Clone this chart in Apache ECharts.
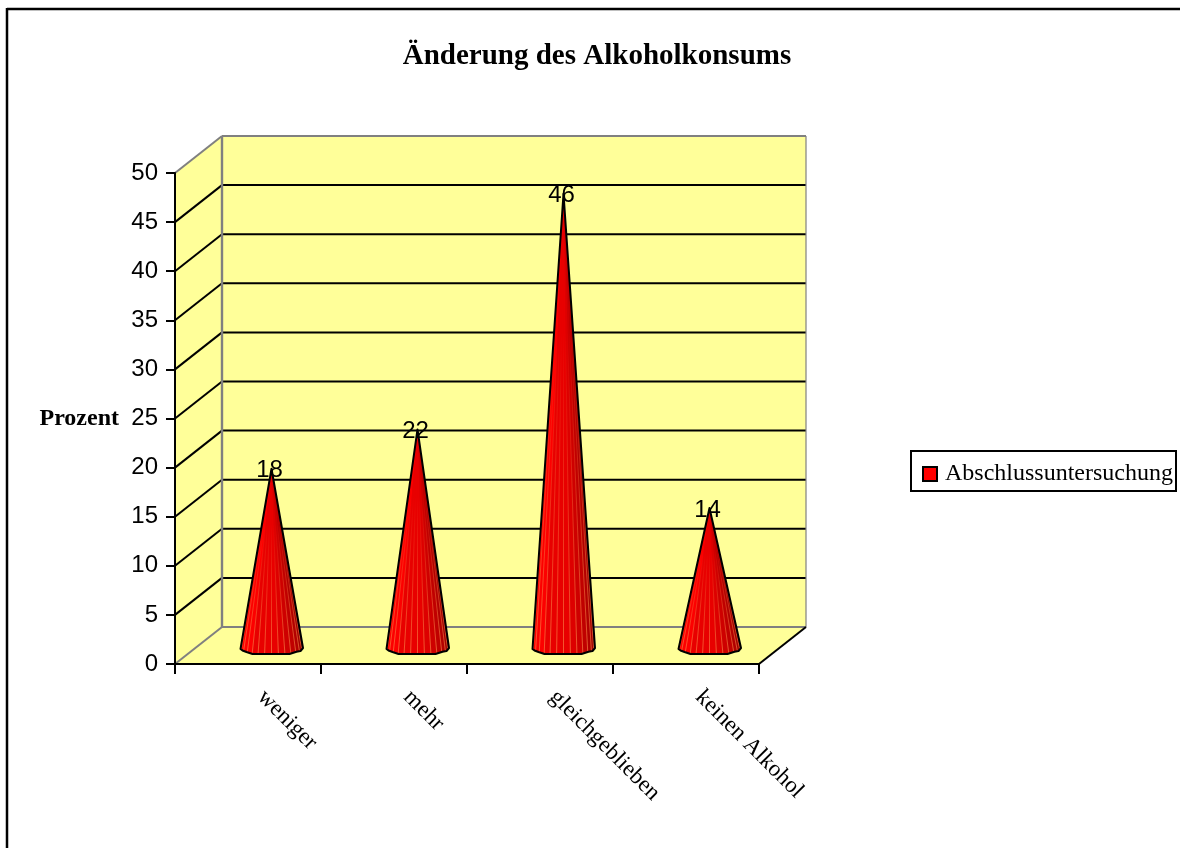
<!DOCTYPE html>
<html lang="de">
<head>
<meta charset="utf-8">
<title>Änderung des Alkoholkonsums</title>
<style>
  html, body { margin: 0; padding: 0; background: #fff; }
  #chart { width: 1180px; height: 848px; }
</style>
<script src="https://cdn.jsdelivr.net/npm/echarts@6/dist/echarts.min.js"></script>
</head>
<body>
<div id="chart"></div>
<script>
const categories = ['weniger', 'mehr', 'gleichgeblieben', 'keinen Alkohol'];
const percentValues = [18, 22, 46, 14];
const yTicks = [0, 5, 10, 15, 20, 25, 30, 35, 40, 45, 50];
const seriesName = 'Abschlussuntersuchung';
const titleText = 'Änderung des Alkoholkonsums';
const yAxisName = 'Prozent';

// Oblique projection of the chart box: depth of the walls in pixels.
const DEPTH_X = 47;
const DEPTH_Y = 37;
const WALL = '#FFFF99';
const WALL_EDGE = '#808080';
const SERIF = '"Liberation Serif", "Times New Roman", serif';
const SANS = '"Liberation Sans", Arial, sans-serif';

// Outline of a cone's foot, relative to its centre on the mid-depth plane.
const FOOT = [[-31, 3.5], [-29, 5], [-25, 6.5], [-19, 8.5], [18, 8.5], [25, 6.2], [29, 5.6], [31.5, 2.5]];
const FACETS = 14;

function line(x1, y1, x2, y2, stroke, width) {
  return { type: 'line', shape: { x1, y1, x2, y2 }, style: { stroke, lineWidth: width, fill: null } };
}

function footY(dx) {
  for (let i = 1; i < FOOT.length; i++) {
    if (dx <= FOOT[i][0]) {
      const [xa, ya] = FOOT[i - 1];
      const [xb, yb] = FOOT[i];
      return ya + (yb - ya) * (dx - xa) / (xb - xa);
    }
  }
  return FOOT[FOOT.length - 1][1];
}

function renderBox(params, api) {
  const left = params.coordSys.x;
  const right = left + params.coordSys.width;
  const top = params.coordSys.y;
  const bottom = top + params.coordSys.height;
  const poly = (points) => ({ type: 'polygon', shape: { points }, style: { fill: WALL } });
  const children = [
    poly([[left + DEPTH_X, top - DEPTH_Y], [right + DEPTH_X, top - DEPTH_Y], [right + DEPTH_X, bottom - DEPTH_Y], [left + DEPTH_X, bottom - DEPTH_Y]]),
    poly([[left, top], [left + DEPTH_X, top - DEPTH_Y], [left + DEPTH_X, bottom - DEPTH_Y], [left, bottom]]),
    poly([[left, bottom], [left + DEPTH_X, bottom - DEPTH_Y], [right + DEPTH_X, bottom - DEPTH_Y], [right, bottom]])
  ];
  yTicks.forEach((tick) => {
    if (tick === 0 || tick === 50) return;
    const y = api.coord([0, tick])[1];
    children.push(line(left, y, left + DEPTH_X, y - DEPTH_Y, '#000', 2));
    children.push(line(left + DEPTH_X, y - DEPTH_Y, right + DEPTH_X, y - DEPTH_Y, '#000', 2));
  });
  children.push(line(left, top, left + DEPTH_X, top - DEPTH_Y, WALL_EDGE, 2));
  children.push(line(left + DEPTH_X, top - DEPTH_Y, right + DEPTH_X, top - DEPTH_Y, WALL_EDGE, 2));
  children.push(line(left + DEPTH_X, top - DEPTH_Y, left + DEPTH_X, bottom - DEPTH_Y, WALL_EDGE, 2.4));
  children.push(line(right + DEPTH_X, top - DEPTH_Y, right + DEPTH_X, bottom - DEPTH_Y, WALL_EDGE, 1.2));
  children.push(line(left, bottom, left + DEPTH_X, bottom - DEPTH_Y, WALL_EDGE, 2));
  children.push(line(left + DEPTH_X, bottom - DEPTH_Y, right + DEPTH_X, bottom - DEPTH_Y, WALL_EDGE, 2));
  children.push(line(right, bottom, right + DEPTH_X, bottom - DEPTH_Y, '#000', 2));
  return { type: 'group', children };
}

// Shade of a facet, from bright red on the lit left side to dark red on the right.
function facetColor(t) {
  const r = t < 0.3 ? 252 : t < 0.55 ? 232 : Math.round(232 - (t - 0.55) * 200);
  return `rgb(${r},0,0)`;
}

function renderCone(params, api) {
  const value = api.value(1);
  const foot = api.coord([api.value(0), 0]);
  const tip = api.coord([api.value(0), value]);
  const cx = foot[0] + DEPTH_X / 2;
  const cy = foot[1] - DEPTH_Y / 2;
  const ax = cx;
  const ay = tip[1] - DEPTH_Y / 2;
  const children = [];
  const footPoints = FOOT.map(([dx, dy]) => [cx + dx, cy + dy]);
  const outline = [[ax, ay]].concat(footPoints);

  children.push({ type: 'polygon', shape: { points: outline }, style: { fill: '#E60000' } });

  const edgeAt = (i) => Math.sin(-Math.PI / 2 + Math.PI * i / FACETS) * 31;
  for (let i = 0; i < FACETS; i++) {
    const d1 = edgeAt(i);
    const d2 = edgeAt(i + 1);
    children.push({
      type: 'polygon',
      shape: { points: [[ax, ay], [cx + d1, cy + footY(d1)], [cx + d2, cy + footY(d2)]] },
      style: { fill: facetColor((i + 0.5) / FACETS) }
    });
  }
  // Facet seams fade out towards the tip.
  const seamFade = new echarts.graphic.LinearGradient(0, ay, 0, cy + 8, [
    { offset: 0, color: 'rgba(255,170,90,0)' },
    { offset: 0.3, color: 'rgba(255,170,90,0)' },
    { offset: 1, color: 'rgba(255,170,90,0.65)' }
  ], true);
  for (let i = 1; i < FACETS; i++) {
    const d1 = edgeAt(i);
    children.push({
      type: 'line',
      shape: { x1: ax, y1: ay, x2: cx + d1, y2: cy + footY(d1) },
      style: { stroke: seamFade, lineWidth: 0.8 }
    });
  }
  children.push({
    type: 'polygon',
    shape: { points: outline },
    style: { fill: null, stroke: '#000', lineWidth: 2, lineJoin: 'round' }
  });
  children.push({
    type: 'text',
    style: {
      x: ax - 2, y: ay + 2,
      text: String(value),
      font: '24px ' + SANS,
      fill: '#000',
      align: 'center',
      verticalAlign: 'middle'
    }
  });
  return { type: 'group', children };
}

const chart = echarts.init(document.getElementById('chart'), null, { renderer: 'canvas' });
chart.setOption({
  animation: false,
  backgroundColor: '#fff',
  title: {
    text: titleText,
    left: 592,
    top: 37,
    textAlign: 'center',
    textStyle: { fontFamily: SERIF, fontWeight: 'bold', fontSize: 29, color: '#000' }
  },
  legend: {
    data: [{ name: seriesName, icon: 'rect' }],
    left: 911,
    top: 454,
    padding: [8, 3, 8, 11],
    itemWidth: 14,
    itemHeight: 14,
    itemGap: 0,
    selectedMode: false,
    textStyle: { fontFamily: SERIF, fontSize: 24, color: '#000', padding: [0, 0, 0, 3] },
    itemStyle: { color: '#FF0000', borderColor: '#000', borderWidth: 2 }
  },
  grid: { left: 175, top: 173, width: 584, height: 491, containLabel: false },
  xAxis: {
    type: 'category',
    data: categories,
    boundaryGap: true,
    z: 2,
    axisLine: { show: true, lineStyle: { color: '#000', width: 2 } },
    axisTick: { show: true, alignWithLabel: false, length: 10, lineStyle: { color: '#000', width: 2 } },
    axisLabel: {
      rotate: -45,
      interval: 0,
      margin: 33,
      verticalAlign: 'bottom',
      padding: [0, 0, 0, 7],
      fontFamily: SERIF,
      fontSize: 23,
      color: '#000'
    }
  },
  yAxis: {
    type: 'value',
    min: 0,
    max: 50,
    interval: 5,
    z: 2,
    name: yAxisName,
    nameLocation: 'middle',
    nameRotate: 0,
    nameGap: 56,
    nameTextStyle: { fontFamily: SERIF, fontWeight: 'bold', fontSize: 24, color: '#000' },
    splitLine: { show: false },
    axisLine: { show: true, lineStyle: { color: '#000', width: 2 } },
    axisTick: { show: true, length: 9, lineStyle: { color: '#000', width: 2 } },
    axisLabel: { margin: 17, fontFamily: SANS, fontSize: 24, color: '#000' }
  },
  series: [
    {
      name: 'Rahmen',
      type: 'custom',
      coordinateSystem: 'cartesian2d',
      silent: true,
      z: 1,
      data: [[0, 0]],
      renderItem: renderBox
    },
    {
      name: seriesName,
      type: 'custom',
      coordinateSystem: 'cartesian2d',
      z: 3,
      itemStyle: { color: '#FF0000' },
      data: categories.map((c, i) => [i, percentValues[i]]),
      encode: { x: 0, y: 1 },
      renderItem: renderCone
    }
  ],
  graphic: [
    { type: 'line', shape: { x1: 7, y1: 9, x2: 1180, y2: 9 }, style: { stroke: '#000', lineWidth: 2.5 }, silent: true },
    { type: 'line', shape: { x1: 7, y1: 8, x2: 7, y2: 848 }, style: { stroke: '#000', lineWidth: 2.5 }, silent: true },
    { type: 'rect', shape: { x: 911, y: 451, width: 265, height: 40 }, style: { fill: '#fff', stroke: '#000', lineWidth: 2 }, silent: true }
  ]
});
</script>
</body>
</html>
